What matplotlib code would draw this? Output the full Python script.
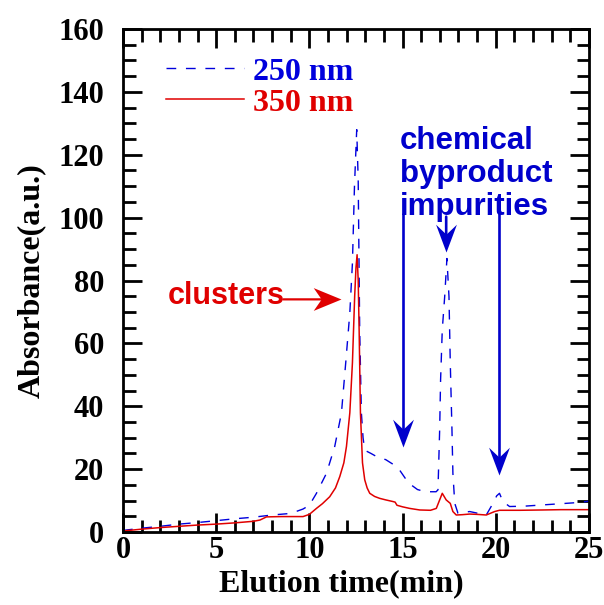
import matplotlib
matplotlib.use("Agg")
import matplotlib.pyplot as plt
from matplotlib.path import Path
from matplotlib.ticker import MultipleLocator

# 250 nm trace (blue, dashed)
t_250 = [0, 1, 2, 3, 4, 5, 6, 7, 8, 9, 9.66, 10.0, 10.38, 10.92, 11.36, 11.72,
         11.95, 12.17, 12.31, 12.42, 12.54, 12.62, 12.7, 12.79, 12.88, 12.97,
         13.3, 13.6, 14.1, 14.5, 14.84, 15.2, 15.5, 15.8, 16.1, 16.45, 16.8,
         16.9, 16.99, 17.04, 17.13, 17.26, 17.38, 17.49, 17.56, 17.65, 17.7,
         17.8, 17.97, 18.6, 19.0, 19.49, 19.85, 20.05, 20.2, 20.38, 20.74,
         21.5, 22.5, 23.5, 24.5, 25]
a_250 = [0.5, 1.2, 1.8, 2.5, 3.0, 3.6, 4.2, 4.7, 5.4, 5.9, 7.3, 8.5, 12.3,
         18.7, 27.2, 37.8, 53.8, 69.7, 85.5, 110, 128, 112, 64.3, 37.9, 30,
         26, 25, 24, 23, 21.5, 19.7, 16.6, 14.8, 13.5, 13.0, 12.8, 12.8, 13.4,
         32.5, 48.4, 64.3, 74.9, 87, 74.9, 53.7, 32.5, 18.7, 9.1, 6.0, 6.5,
         6.0, 5.4, 9.1, 11.5, 12.3, 9.7, 8.1, 8.2, 8.6, 9.0, 9.4, 9.8]

# 350 nm trace (red, solid)
t_350 = [0, 1, 2, 3, 4, 5, 6, 7, 7.35, 7.7, 8.5, 9.0, 9.66, 10.0, 10.38, 10.7,
         11.09, 11.4, 11.63, 11.85, 11.99, 12.17, 12.31, 12.43, 12.5, 12.56,
         12.62, 12.67, 12.74, 12.85, 12.97, 13.1, 13.24, 13.5, 13.77, 14.1,
         14.47, 14.6, 14.7, 15.0, 15.38, 15.92, 16.5, 16.81, 16.99, 17.13,
         17.34, 17.56, 17.7, 17.88, 18.2, 18.6, 19.0, 19.49, 19.94, 20.2, 21.3,
         22.5, 23.5, 25]
a_350 = [0.3, 0.9, 1.4, 1.8, 2.2, 2.5, 2.9, 3.4, 3.8, 4.8, 4.9, 4.9, 4.9, 5.6,
         7.5, 9.0, 11.2, 14.0, 17.6, 22, 27.2, 37.9, 53.8, 74.9, 84, 88.2, 80,
         64.3, 37.9, 22, 16.6, 14, 12.3, 11.3, 10.7, 10.2, 9.7, 9.5, 8.5, 8.0,
         7.5, 7.0, 6.9, 7.5, 10.2, 12.3, 10.2, 9.1, 6.5, 5.4, 5.5, 5.7, 5.6,
         5.4, 6.5, 6.9, 6.9, 7.0, 7.1, 7.1]

labels = ["250 nm", "350 nm"]

# annotation arrows
cluster_arrow = (8.6, 11.72, 74.0)          # x start, x tip, y
impurity_x = [15.05, 17.34, 20.2]
impurity_top = [101, 100.3, 101.5]
impurity_tip = [27, 89.2, 18.1]

BLUE = "#0000dd"
ABLUE = "#0000cc"
RED = "#e00000"
SERIF = "Liberation Serif"
SANS = "Liberation Sans"


def notched_head(length, half_width, notch, direction):
    """Filled arrow head (tip at origin) as a marker path."""
    if direction == "down":
        verts = [(0, 0), (-half_width, length), (0, length - notch),
                 (half_width, length), (0, 0)]
    else:  # right
        verts = [(0, 0), (-length, half_width), (-(length - notch), 0),
                 (-length, -half_width), (0, 0)]
    return Path(verts, [Path.MOVETO] + [Path.LINETO] * 3 + [Path.CLOSEPOLY])


fig = plt.figure(figsize=(6.04, 6.05), dpi=100)
ax = fig.add_axes([0.2036, 0.1207, 0.7715, 0.8313])

ax.plot(t_250, a_250, color=BLUE, lw=1.0, dashes=(7, 7), label=labels[0])
ax.plot(t_350, a_350, color=RED, lw=1.1, label=labels[1])

ax.set_xlim(0, 25)
ax.set_ylim(0, 160)
ax.xaxis.set_major_locator(MultipleLocator(5))
ax.xaxis.set_minor_locator(MultipleLocator(1))
ax.yaxis.set_major_locator(MultipleLocator(20))
ax.yaxis.set_minor_locator(MultipleLocator(5))
ax.tick_params(which="both", direction="in", top=True, right=True, width=2)
ax.tick_params(which="major", length=14)
ax.tick_params(which="minor", length=9)
ax.tick_params(axis="x", which="major", pad=3)
ax.tick_params(axis="y", which="major", pad=13.5)
for s in ax.spines.values():
    s.set_linewidth(2)
for lab in ax.get_xticklabels() + ax.get_yticklabels():
    lab.set_fontfamily(SERIF)
    lab.set_fontweight("bold")
    lab.set_fontsize(22)

ax.set_xlabel("Elution time(min)", fontfamily=SERIF, fontweight="bold",
              fontsize=23)
ax.set_ylabel("Absorbance(a.u.)", fontfamily=SERIF, fontweight="bold",
              fontsize=23)
ax.xaxis.set_label_coords(0.468, -0.074)
ax.yaxis.set_label_coords(-0.165, 0.5)

ax.legend(loc="upper left", bbox_to_anchor=(0.0915, 0.944), frameon=False,
          handlelength=2.44, handletextpad=0.31, labelspacing=0.05,
          borderpad=0, borderaxespad=0,
          prop={"family": SERIF, "weight": "bold", "size": 23},
          labelcolor="linecolor")

# clusters annotation
x0, x1, yc = cluster_arrow
ax.annotate("", xy=(x1 - 0.5, yc), xytext=(x0, yc),
            arrowprops=dict(arrowstyle="-", color=RED, lw=1.6,
                            shrinkA=0, shrinkB=0))
ax.plot([x1], [yc], marker=notched_head(28, 11.5, 8, "right"), ms=40,
        color=RED, mec=RED, mew=0, ls="none")
ax.text(2.4, 75, "clusters", color=RED, fontfamily=SANS, fontweight="bold",
        fontsize=22, va="center", ha="left")

# impurities annotation
ax.text(14.85, 114, "chemical\nbyproduct\nimpurities", color=ABLUE,
        fontfamily=SANS, fontweight="bold", fontsize=22.5, va="center",
        ha="left", linespacing=1.125)
for x, y0, y1 in zip(impurity_x, impurity_top, impurity_tip):
    ax.annotate("", xy=(x, y1 + 4), xytext=(x, y0),
                arrowprops=dict(arrowstyle="-", color=ABLUE, lw=1.9,
                                shrinkA=0, shrinkB=0))
    ax.plot([x], [y1], marker=notched_head(28, 10.5, 10, "down"), ms=40,
            color=ABLUE, mec=ABLUE, mew=0, ls="none")

fig.savefig("out.png", dpi=100)
